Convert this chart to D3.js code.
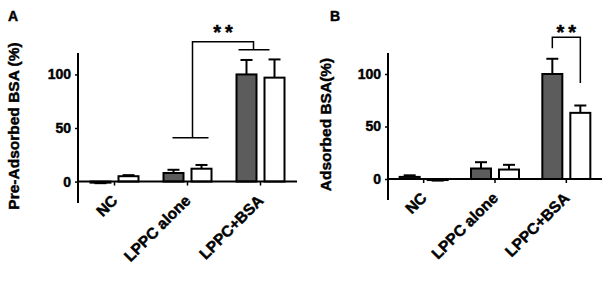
<!DOCTYPE html>
<html>
<head>
<meta charset="utf-8">
<script src="https://cdn.jsdelivr.net/npm/d3@7"></script>
<style>
  body { margin: 0; background: #fff; }
  svg { display: block; }
  text { font-family: "Liberation Sans", Arial, sans-serif; font-weight: bold; fill: #000;
         stroke: #000; stroke-width: 0.45px; }
</style>
</head>
<body>
<script>
// categories and series
var groups = ["NC", "LPPC alone", "LPPC+BSA"];
var series = ["treated", "control"];
var yTicks = [0, 50, 100];

// panel A values (mean, upper error), one row per group
var meansA = [[-1, 5], [8, 12], [100, 97]];
var errsA = [[0.5, 1], [3, 3.5], [13.5, 17]];
// panel B values
var meansB = [[2, -1], [10, 9], [100, 63]];
var errsB = [[1.5, 0.5], [6, 4.5], [14.5, 7]];

var W = 610, H = 303;
var DARK = "#5c5c5c";

var svg = d3.select("body").append("svg")
  .attr("width", W)
  .attr("height", H);

var panels = [
  { title: "A", label: "Pre-Adsorbed BSA (%)", means: meansA, errs: errsA,
    left: 78, right: 297, top: 53, bottom: 203, labelX: 19, titleX: 8 },
  { title: "B", label: "Adsorbed BSA(%)", means: meansB, errs: errsB,
    left: 388, right: 602, top: 53, bottom: 200, labelX: 331, titleX: 330 }
];

function drawPanel(p) {
  var g = svg.append("g");

  var x0 = d3.scaleBand().domain(groups).range([p.left, p.right]).padding(0);
  var x1 = d3.scaleBand().domain(series).range([-24, 24]).paddingInner(0.286);
  var y = d3.scaleLinear().domain([-20, 120]).range([p.bottom, p.top]);

  // rows flattened into bars
  var bars = [];
  groups.forEach(function(grp, i) {
    series.forEach(function(s, j) {
      bars.push({ group: grp, series: s, mean: p.means[i][j], err: p.errs[i][j] });
    });
  });

  function cx(d) { return x0(d.group) + x0.bandwidth() / 2 + x1(d.series) + x1.bandwidth() / 2; }
  function tip(d) { return y(d.mean + (d.mean < 0 ? -d.err : d.err)); }

  // error bars (one sided, away from zero)
  var eb = g.selectAll(".err").data(bars).enter().append("g").attr("class", "err");
  eb.append("line")
    .attr("x1", cx).attr("x2", cx)
    .attr("y1", function(d) { return y(d.mean); })
    .attr("y2", tip)
    .attr("stroke", "#000").attr("stroke-width", 2);
  eb.append("line")
    .attr("x1", function(d) { return cx(d) - 6; })
    .attr("x2", function(d) { return cx(d) + 6; })
    .attr("y1", tip).attr("y2", tip)
    .attr("stroke", "#000").attr("stroke-width", 2);

  // bars
  g.selectAll(".bar").data(bars).enter().append("rect")
    .attr("class", "bar")
    .attr("x", function(d) { return x0(d.group) + x0.bandwidth() / 2 + x1(d.series); })
    .attr("width", x1.bandwidth())
    .attr("y", function(d) { return y(Math.max(0, d.mean)); })
    .attr("height", function(d) { return Math.abs(y(d.mean) - y(0)); })
    .attr("fill", function(d) { return d.series === "treated" ? DARK : "#fff"; })
    .attr("stroke", "#000")
    .attr("stroke-width", 2);

  // y axis
  var yAxis = g.append("g")
    .attr("transform", "translate(" + p.left + ",0)")
    .call(d3.axisLeft(y).tickValues(yTicks).tickSize(3).tickPadding(4));
  yAxis.select(".domain").remove();
  yAxis.append("line")
    .attr("y1", p.top).attr("y2", p.bottom)
    .attr("stroke", "#000").attr("stroke-width", 2);
  yAxis.selectAll(".tick line").attr("stroke-width", 1.5);
  yAxis.selectAll(".tick text")
    .style("font-size", "14px")
    .style("font-family", "'Liberation Sans', Arial, sans-serif")
    .style("font-weight", "bold")
    .attr("fill", "#000");

  // x axis sits on zero
  var xAxis = g.append("g")
    .attr("transform", "translate(0," + y(0) + ")")
    .call(d3.axisBottom(x0).tickSize(4).tickSizeOuter(0).tickPadding(3));
  xAxis.select(".domain").attr("stroke-width", 2)
    .attr("d", "M" + p.left + ",0H" + p.right);
  xAxis.selectAll(".tick line").attr("stroke-width", 1.5);
  xAxis.selectAll(".tick text")
    .style("font-size", "15.5px")
    .style("font-family", "'Liberation Sans', Arial, sans-serif")
    .style("font-weight", "bold")
    .attr("fill", "#000")
    .attr("text-anchor", "end")
    .attr("y", 0)
    .attr("dy", 0)
    .attr("transform", "translate(4,20) rotate(-45)");

  // axis title
  g.append("text")
    .attr("transform", "translate(" + p.labelX + "," + ((p.top + p.bottom) / 2 - 2) + ") rotate(-90)")
    .attr("text-anchor", "middle")
    .style("font-size", "15.5px")
    .text(p.label);

  // panel letter
  g.append("text")
    .attr("x", p.titleX).attr("y", 21)
    .style("font-size", "14px")
    .text(p.title);

  return { x0: x0, x1: x1, y: y, g: g };
}

var pa = drawPanel(panels[0]);
var pb = drawPanel(panels[1]);

function groupMid(s, grp) { return s.x0(grp) + s.x0.bandwidth() / 2; }
function barMid(s, grp, ser) { return groupMid(s, grp) + s.x1(ser) + s.x1.bandwidth() / 2; }

// significance bracket A: LPPC alone (both) vs LPPC+BSA (both)
var bA = { from: "LPPC alone", to: "LPPC+BSA", low: 41, top: 130.5, high: 123, star: 133 };
(function() {
  var s = pa, y = s.y;
  var xl = groupMid(s, bA.from) + 5, xr = groupMid(s, bA.to) - 7;
  var path = d3.path();
  path.moveTo(groupMid(s, bA.from) - 15, y(bA.low));
  path.lineTo(groupMid(s, bA.from) + 21, y(bA.low));
  path.moveTo(xl, y(bA.low));
  path.lineTo(xl, y(bA.top));
  path.lineTo(xr, y(bA.top));
  path.lineTo(xr, y(bA.high));
  path.moveTo(groupMid(s, bA.to) - 22, y(bA.high));
  path.lineTo(groupMid(s, bA.to) + 9, y(bA.high));
  s.g.append("path").attr("d", path.toString())
    .attr("fill", "none").attr("stroke", "#000").attr("stroke-width", 1.5);
  s.g.append("text")
    .attr("x", (xl + xr) / 2 + 2).attr("y", y(bA.star))
    .attr("text-anchor", "middle")
    .style("font-size", "20px").style("letter-spacing", "4px")
    .text("**");
})();

// significance bracket B: LPPC+BSA treated vs control
var bB = { group: "LPPC+BSA", top: 135, leftLow: 124.5, rightLow: 91.5, star: 133 };
(function() {
  var s = pb, y = s.y;
  var xl = barMid(s, bB.group, "treated"), xr = barMid(s, bB.group, "control");
  var path = d3.path();
  path.moveTo(xl, y(bB.leftLow));
  path.lineTo(xl, y(bB.top));
  path.lineTo(xr, y(bB.top));
  path.lineTo(xr, y(bB.rightLow));
  s.g.append("path").attr("d", path.toString())
    .attr("fill", "none").attr("stroke", "#000").attr("stroke-width", 1.5);
  s.g.append("text")
    .attr("x", (xl + xr) / 2 + 2).attr("y", y(bB.star))
    .attr("text-anchor", "middle")
    .style("font-size", "20px").style("letter-spacing", "4px")
    .text("**");
})();
</script>
</body>
</html>
